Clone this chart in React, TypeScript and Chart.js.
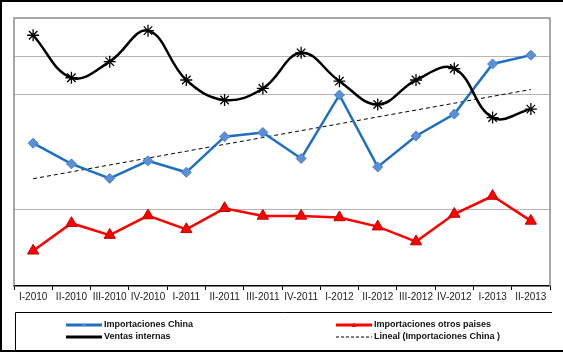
import React, { useEffect, useRef } from "react";
import { Chart, registerables } from "chart.js";

Chart.register(...registerables);

const categories = [
  "I-2010", "II-2010", "III-2010", "IV-2010", "I-2011", "II-2011", "III-2011",
  "IV-2011", "I-2012", "II-2012", "III-2012", "IV-2012", "I-2013", "II-2013",
];
const importacionesChina = [3.73, 3.19, 2.81, 3.27, 2.97, 3.9, 4.01, 3.33, 4.99, 3.11, 3.92, 4.49, 5.8, 6.03];
const importacionesOtros = [0.92, 1.64, 1.33, 1.84, 1.48, 2.03, 1.83, 1.83, 1.79, 1.55, 1.16, 1.88, 2.35, 1.7];
const ventasInternas = [6.55, 5.44, 5.86, 6.67, 5.38, 4.86, 5.16, 6.09, 5.35, 4.74, 5.38, 5.68, 4.4, 4.62];
const gridValues = [2, 5, 6];
const legendLabels = [
  "Importaciones China",
  "Importaciones otros paises",
  "Ventas internas",
  "Lineal (Importaciones China )",
];

function linearTrend(values: number[]): number[] {
  const n = values.length;
  const xm = (n - 1) / 2;
  const ym = values.reduce((a, b) => a + b, 0) / n;
  let num = 0;
  let den = 0;
  values.forEach((v, i) => {
    num += (i - xm) * (v - ym);
    den += (i - xm) * (i - xm);
  });
  const b = num / den;
  return values.map((_, i) => ym + b * (i - xm));
}

const BLUE = "#1f6fc1";
const BLUE_PT = "#5b8fd6";
const RED = "#ff0000";
const FONT = "'Liberation Sans', Arial, sans-serif";

const framePlugin = {
  id: "framePlugin",
  beforeDatasetsDraw(chart: any) {
    const { ctx, chartArea } = chart;
    const { left, right, top, bottom } = chartArea;
    ctx.save();
    ctx.strokeStyle = "#8a8a8a";
    ctx.lineWidth = 1.5;
    ctx.beginPath();
    ctx.moveTo(left, bottom);
    ctx.lineTo(left, top);
    ctx.lineTo(right, top);
    ctx.lineTo(right, bottom);
    ctx.stroke();
    ctx.restore();
  },
  afterDraw(chart: any) {
    const ctx = chart.ctx;
    ctx.save();
    ctx.strokeStyle = "#000";
    ctx.lineWidth = 2;
    ctx.beginPath();
    ctx.moveTo(570, 1);
    ctx.lineTo(1, 1);
    ctx.lineTo(1, 351);
    ctx.lineTo(570, 351);
    ctx.stroke();
    ctx.lineWidth = 1;
    ctx.beginPath();
    ctx.moveTo(15.5, 351);
    ctx.lineTo(15.5, 312.5);
    ctx.lineTo(552, 312.5);
    ctx.stroke();

    const items = [
      { x: 66, y: 325, ds: 0 },
      { x: 336, y: 325, ds: 1 },
      { x: 66, y: 337, ds: 2 },
      { x: 336, y: 337, ds: 3 },
    ];
    items.forEach((it, idx) => {
      const ds = chart.data.datasets[it.ds];
      const x0 = it.x;
      const x1 = it.x + 36;
      ctx.save();
      ctx.strokeStyle = ds.borderColor;
      ctx.lineWidth = it.ds === 3 ? 1 : 3;
      if (it.ds === 3) ctx.setLineDash([3, 2]);
      ctx.beginPath();
      ctx.moveTo(x0, it.y);
      ctx.lineTo(x1, it.y);
      ctx.stroke();
      ctx.setLineDash([]);
      if (it.ds !== 3) {
        ctx.fillStyle = ds.pointBackgroundColor;
        const cx = (x0 + x1) / 2;
        ctx.beginPath();
        if (it.ds === 0) {
          ctx.moveTo(cx, it.y - 2);
          ctx.lineTo(cx + 2, it.y);
          ctx.lineTo(cx, it.y + 2);
          ctx.lineTo(cx - 2, it.y);
          ctx.closePath();
          ctx.fill();
        } else if (it.ds === 1) {
          ctx.moveTo(cx, it.y - 2.5);
          ctx.lineTo(cx + 2.5, it.y + 2);
          ctx.lineTo(cx - 2.5, it.y + 2);
          ctx.closePath();
          ctx.fill();
        }
      }
      ctx.fillStyle = "#111";
      ctx.font = `bold 9px ${FONT}`;
      ctx.textBaseline = "middle";
      ctx.textAlign = "left";
      ctx.fillText(legendLabels[idx], x1 + 2, it.y);
      ctx.restore();
    });
    ctx.restore();
  },
};

export default function App() {
  const ref = useRef<HTMLCanvasElement | null>(null);
  useEffect(() => {
    if (!ref.current) return;
    const chart = new Chart(ref.current, {
      type: "line",
      data: {
        labels: categories,
        datasets: [
          {
            label: legendLabels[0],
            data: importacionesChina,
            borderColor: BLUE,
            borderWidth: 2.5,
            pointStyle: "rectRot",
            pointRadius: 5,
            pointBackgroundColor: BLUE_PT,
            pointBorderColor: "#4a80c8",
            pointBorderWidth: 1,
            tension: 0,
            order: 2,
          },
          {
            label: legendLabels[1],
            data: importacionesOtros,
            borderColor: RED,
            borderWidth: 2.5,
            pointStyle: "triangle",
            pointRadius: 6.5,
            pointBackgroundColor: RED,
            pointBorderColor: "#c00000",
            pointBorderWidth: 1,
            tension: 0,
            order: 3,
          },
          {
            label: legendLabels[2],
            data: ventasInternas,
            borderColor: "#000",
            borderWidth: 2.5,
            pointStyle: "star",
            pointRadius: 6,
            pointBackgroundColor: "#000",
            pointBorderColor: "#000",
            pointBorderWidth: 1.3,
            tension: 0.4,
            order: 1,
          },
          {
            label: legendLabels[3],
            data: linearTrend(importacionesChina),
            borderColor: "#000",
            borderWidth: 1,
            borderDash: [4, 3],
            pointRadius: 0,
            tension: 0,
            order: 4,
          },
        ],
      },
      options: {
        responsive: false,
        animation: false,
        layout: { padding: { left: 14, right: 13, top: 18, bottom: 0 } },
        plugins: { legend: { display: false }, tooltip: { enabled: false } },
        scales: {
          x: {
            type: "category",
            offset: true,
            grid: {
              display: true,
              drawOnChartArea: false,
              drawTicks: true,
              tickLength: 4,
              color: "#000",
              offset: true,
            },
            border: { display: true, color: "#000", width: 1.5 },
            ticks: {
              font: { family: FONT, size: 10 },
              color: "#222",
              padding: 1,
              maxRotation: 0,
              autoSkip: false,
            },
            afterFit: (s: any) => {
              s.height = 72;
            },
          },
          y: {
            min: 0,
            max: 7,
            ticks: { display: false },
            grid: { color: "#b4b4b4", drawTicks: false, lineWidth: 1 },
            border: { display: false },
            afterBuildTicks: (s: any) => {
              s.ticks = gridValues.map((v) => ({ value: v }));
            },
            afterFit: (s: any) => {
              s.width = 0;
            },
          },
        },
      },
      plugins: [framePlugin],
    } as any);
    return () => chart.destroy();
  }, []);
  return (
    <div style={{ position: "absolute", left: 0, top: 0, width: 563, height: 358, background: "#fff" }}>
      <canvas ref={ref} width={563} height={358} style={{ display: "block" }} />
    </div>
  );
}
